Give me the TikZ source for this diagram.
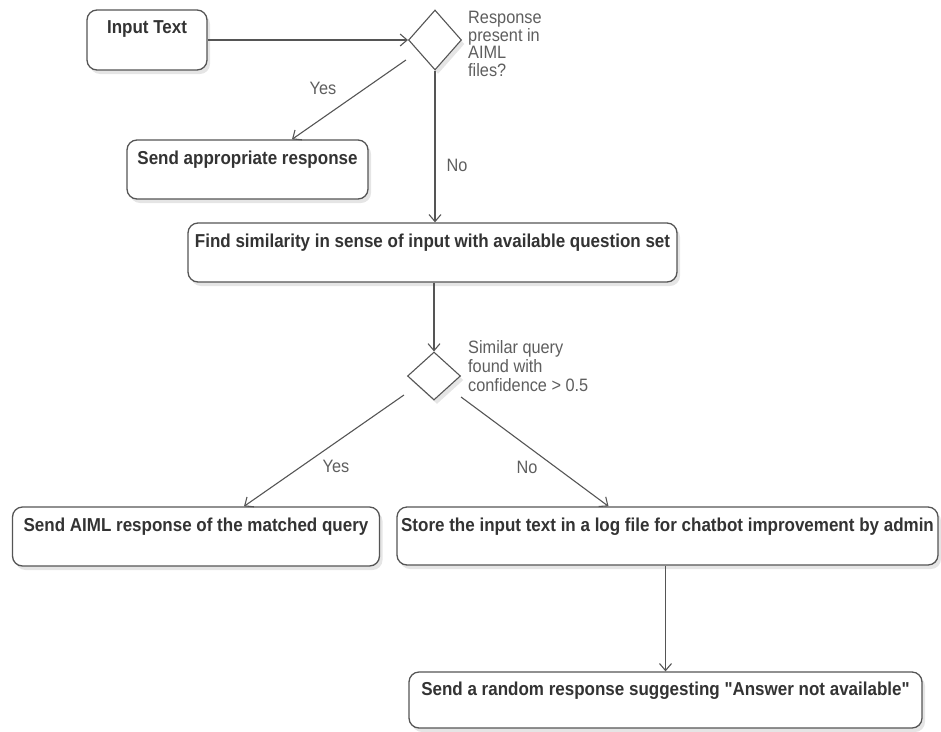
\documentclass[tikz,border=0pt]{standalone}
\usepackage{fontspec}
\setmainfont{Liberation Sans}[Ligatures=TeXOff]
\usetikzlibrary{shapes.geometric,arrows.meta,calc,shadows}
\definecolor{linec}{HTML}{555555}
\definecolor{boxtext}{HTML}{333333}
\definecolor{labtext}{HTML}{5E5E5E}
\newcommand{\vstr}[1]{\scalebox{1}[1.1]{#1}}
\newcommand{\labl}[2]{\scalebox{1}[1.1]{\fontsize{16.3}{#1}\selectfont\begin{tabular}[t]{@{}l@{}}#2\end{tabular}}}
\tikzset{
  shad/.style={drop shadow={shadow xshift=3pt,shadow yshift=-4pt,fill=black,opacity=0.10}},
  actbox/.style={draw=linec,line width=1.3pt,rounded corners=10pt,fill=white,shad,inner sep=0pt},
  dec/.style={draw=linec,line width=1.1pt,shape=diamond,fill=white,shad,inner sep=0pt},
  btext/.style={font=\fontsize{17}{20}\selectfont\bfseries,text=boxtext,inner sep=0pt},
  ltext/.style={font=\fontsize{16.3}{18}\selectfont,text=labtext,inner sep=0pt},
  arr/.style={draw=linec,line width=1.1pt,-{Straight Barb[length=7pt,width=12pt]}}
}
\begin{document}
\begin{tikzpicture}[x=1pt,y=-1pt]
\useasboundingbox (0,0) rectangle (941,731);
% boxes
\node[actbox,minimum width=120pt,minimum height=60pt] (inp) at (147,40) {};
\node[btext] (tinp) at (147,29.5) {\vstr{Input Text}};
\node[dec,minimum width=53pt,minimum height=60pt] (d1) at (435,40) {};
\node[ltext,anchor=base west] (l1) at (468,23) {\labl{15.5}{Response\\present in\\AIML\\files?}};
\node[actbox,minimum width=241pt,minimum height=59pt] (send1) at (247.5,169.5) {};
\node[btext] (tsend1) at (247.5,160) {\vstr{Send appropriate response}};
\node[actbox,minimum width=489pt,minimum height=59pt] (find) at (432.5,252.5) {};
\node[btext] (tfind) at (432.5,243) {\vstr{Find similarity in sense of input with available question set}};
\node[dec,minimum width=53pt,minimum height=48pt] (d2) at (434,376) {};
\node[ltext,anchor=base west] (l2) at (468,353) {\labl{17.7}{Similar query\\found with\\confidence > 0.5}};
\node[actbox,minimum width=367pt,minimum height=59pt] (aiml) at (196,536.5) {};
\node[btext] (taiml) at (196,527) {\vstr{Send AIML response of the matched query}};
\node[actbox,minimum width=541pt,minimum height=58pt] (store) at (667.5,536) {};
\node[btext] (tstore) at (667.5,527) {\vstr{Store the input text in a log file for chatbot improvement by admin}};
\node[actbox,minimum width=513pt,minimum height=56pt] (rand) at (665.5,700) {};
\node[btext] (trand) at (665.5,691) {\vstr{Send a random response suggesting "Answer not available"}};
% connectors
\draw[arr] (inp.east) -- (d1.west);
\draw[arr] ($(d1.west)+(-2,20)$) -- ([xshift=44.5pt]send1.north);
\node[ltext] (y1) at (323,88) {\vstr{Yes}};
\draw[arr] (d1.south) -- (find.north -| d1.south);
\node[ltext] (n1) at (457,165) {\vstr{No}};
\draw[arr] (find.south -| d2.north) -- (d2.north);
\draw[arr] ($(d2.west)+(-3,19)$) -- ([xshift=48pt]aiml.north);
\node[ltext] (y2) at (336,466) {\vstr{Yes}};
\draw[arr] ($(d2.east)+(0,21)$) -- ([xshift=-59pt]store.north);
\node[ltext] (n2) at (527,467) {\vstr{No}};
\draw[arr] (store.south -| rand.north) -- (rand.north);
\end{tikzpicture}
\end{document}
